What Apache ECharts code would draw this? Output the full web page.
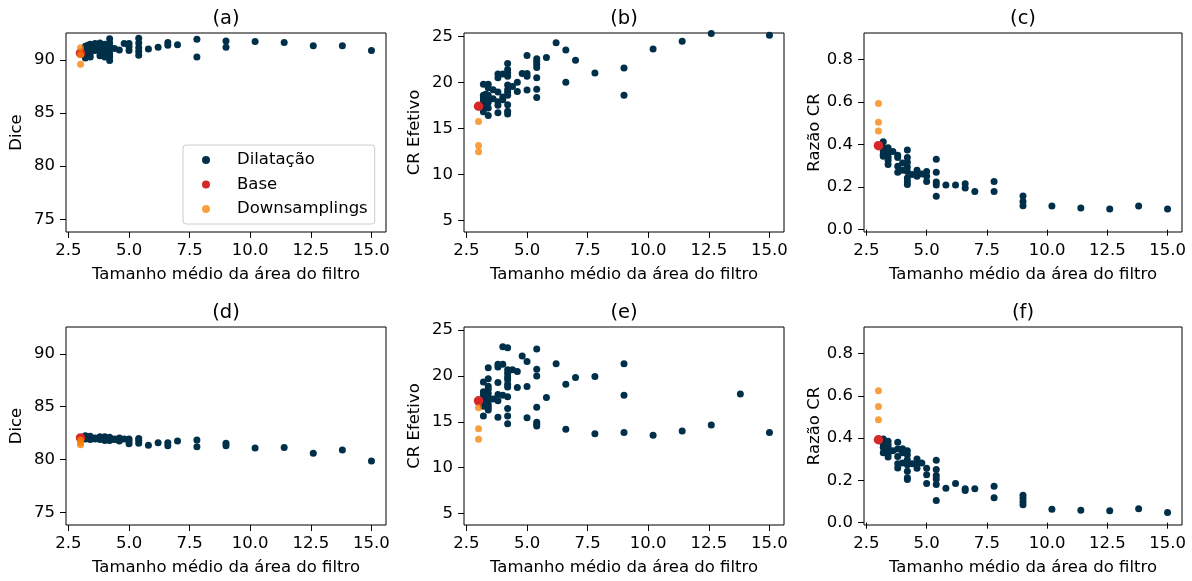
<!DOCTYPE html>
<html><head><meta charset="utf-8">
<script src="https://cdn.jsdelivr.net/npm/echarts@6/dist/echarts.min.js"></script>
<style>html,body{margin:0;padding:0;background:#fff}#c{width:1192px;height:581px}</style>
</head><body><div id="c"></div>
<script>
// ---------- tick labels ----------
const xTicks = [2.5, 5.0, 7.5, 10.0, 12.5, 15.0];
const diceTicks = [75, 80, 85, 90];
const crTicks = [5, 10, 15, 20, 25];
const ratioTicks = [0.0, 0.2, 0.4, 0.6, 0.8];

// ---------- labels ----------
const panelTitles = ['(a)', '(b)', '(c)', '(d)', '(e)', '(f)'];
const xLabel = 'Tamanho médio da área do filtro';
const yLabels = ['Dice', 'CR Efetivo', 'Razão CR', 'Dice', 'CR Efetivo', 'Razão CR'];
const seriesNames = ['Dilatação', 'Base', 'Downsamplings'];

// ---------- data: [tamanho médio, valor] ----------
const dilA = [
  [3.2,91.3],[3.2,91.0],[3.2,90.7],[3.2,90.4],[3.2,90.2],
  [3.3,91.4],[3.3,91.1],[3.3,90.8],[3.3,90.5],
  [3.4,91.5],[3.4,91.2],[3.4,91.0],[3.4,90.6],[3.4,90.3],
  [3.6,91.55],[3.6,91.3],[3.6,90.9],
  [3.8,91.6],[3.8,91.2],[3.8,90.8],[3.8,90.4],
  [4.0,91.5],[4.0,91.1],[4.0,90.7],[4.0,90.3],
  [4.2,92.0],[4.2,91.6],[4.2,91.3],[4.2,91.0],[4.2,90.6],[4.2,90.3],[4.2,89.95],
  [4.4,91.1],[4.6,90.95],[4.8,91.55],
  [5.0,91.55],[5.0,91.25],[5.0,90.9],
  [5.4,92.05],[5.4,91.6],[5.4,91.15],[5.4,90.8],[5.4,90.45],
  [5.8,91.05],[6.2,91.2],[6.6,91.65],[6.6,91.4],[7.0,91.45],
  [7.8,91.95],[7.8,90.3],[9.0,91.8],[9.0,91.2],
  [10.2,91.75],[11.4,91.65],[12.6,91.35],[13.8,91.35],[15.0,90.9]
];
const baseA = [[3.0,90.65]];
const dsA = [[3.0,91.15],[3.0,90.5],[3.0,89.6]];

const dilB = [
  [3.2,19.8],[3.2,18.6],[3.2,18.3],[3.2,18.0],[3.2,17.7],[3.2,17.3],[3.2,16.8],
  [3.3,18.7],[3.3,18.4],[3.3,18.1],[3.3,17.8],[3.3,17.5],
  [3.4,19.8],[3.4,19.4],[3.4,18.6],[3.4,18.2],[3.4,17.8],[3.4,17.2],[3.4,16.4],
  [3.6,19.2],[3.6,18.2],
  [3.8,20.9],[3.8,20.5],[3.8,18.95],[3.8,17.9],[3.8,17.5],[3.8,16.7],
  [4.0,20.9],[4.0,18.4],[4.0,18.1],
  [4.2,22.05],[4.2,21.4],[4.2,21.05],[4.2,20.65],[4.2,19.7],[4.2,19.2],[4.2,18.9],[4.2,18.6],[4.2,17.55],[4.2,16.85],[4.2,16.55],
  [4.4,19.55],[4.6,20.0],[4.6,19.0],[4.8,20.95],
  [5.0,22.9],[5.0,20.95],[5.0,20.65],[5.0,19.15],
  [5.4,22.55],[5.4,22.25],[5.4,21.95],[5.4,21.6],[5.4,20.5],[5.4,19.25],[5.4,18.35],
  [5.8,22.7],[6.2,24.3],[6.6,23.5],[6.6,20.0],[7.0,22.4],[7.8,21.0],
  [9.0,21.55],[9.0,18.6],[10.2,23.6],[11.4,24.45],[12.6,25.3],[15.0,25.1]
];
const baseB = [[3.0,17.4]];
const dsB = [[3.0,15.75],[3.0,13.15],[3.0,12.45]];

const dilC = [
  [3.2,0.413],[3.2,0.385],[3.2,0.37],[3.2,0.355],[3.2,0.345],
  [3.3,0.38],[3.3,0.36],[3.3,0.35],
  [3.4,0.385],[3.4,0.37],[3.4,0.355],[3.4,0.34],[3.4,0.325],[3.4,0.306],
  [3.6,0.368],
  [3.8,0.35],[3.8,0.34],[3.8,0.298],[3.8,0.27],
  [4.0,0.314],[4.0,0.28],
  [4.2,0.375],[4.2,0.34],[4.2,0.317],[4.2,0.295],[4.2,0.274],[4.2,0.243],[4.2,0.227],[4.2,0.212],
  [4.4,0.259],[4.6,0.279],[4.6,0.251],[4.8,0.262],
  [5.0,0.274],[5.0,0.251],[5.0,0.227],
  [5.4,0.331],[5.4,0.27],[5.4,0.224],[5.4,0.21],[5.4,0.157],
  [5.8,0.21],[6.2,0.21],[6.6,0.216],[6.6,0.196],[7.0,0.18],
  [7.8,0.227],[7.8,0.18],[9.0,0.158],[9.0,0.132],[9.0,0.113],
  [10.2,0.111],[11.4,0.102],[12.6,0.097],[13.8,0.111],[15.0,0.097]
];
const baseC = [[3.0,0.395]];
const dsC = [[3.0,0.593],[3.0,0.505],[3.0,0.464]];

const dilD = [
  [3.2,82.25],[3.2,82.05],[3.2,81.95],[3.3,82.15],[3.3,82.0],
  [3.4,82.2],[3.4,82.0],[3.4,81.9],[3.6,82.05],[3.6,81.95],
  [3.8,82.15],[3.8,82.0],[3.8,81.9],[4.0,82.15],[4.0,81.95],[4.0,81.8],
  [4.2,82.1],[4.2,81.95],[4.2,81.8],[4.4,81.95],[4.4,81.9],
  [4.6,82.05],[4.6,81.85],[4.6,81.75],[4.8,81.95],
  [5.0,81.95],[5.0,81.75],[5.0,81.5],[5.4,82.0],[5.4,81.8],[5.4,81.55],
  [5.8,81.35],[6.2,81.6],[6.6,81.6],[6.6,81.3],[7.0,81.75],
  [7.8,81.85],[7.8,81.2],[9.0,81.55],[9.0,81.3],
  [10.2,81.1],[11.4,81.15],[12.6,80.6],[13.8,80.9],[15.0,79.85]
];
const baseD = [[3.0,82.05]];
const dsD = [[3.0,81.85],[3.0,81.6],[3.0,81.4]];

const dilE = [
  [3.2,19.35],[3.2,18.3],[3.2,17.9],[3.2,17.5],[3.2,17.1],[3.2,16.7],[3.2,15.65],
  [3.3,18.0],[3.3,17.6],[3.3,17.2],[3.3,16.9],
  [3.4,20.9],[3.4,19.7],[3.4,18.9],[3.4,18.55],[3.4,18.1],[3.4,17.7],[3.4,17.3],[3.4,16.9],[3.4,16.6],[3.4,16.3],
  [3.6,17.5],
  [3.8,21.3],[3.8,21.0],[3.8,19.3],[3.8,18.0],[3.8,17.3],[3.8,15.5],
  [4.0,23.2],[4.0,21.3],[4.0,17.9],
  [4.2,23.1],[4.2,20.7],[4.2,20.3],[4.2,19.9],[4.2,19.6],[4.2,19.1],[4.2,18.8],[4.2,17.75],[4.2,16.45],[4.2,15.65],[4.2,14.8],
  [4.4,20.7],[4.6,20.5],[4.6,18.75],[4.8,22.2],
  [5.0,21.6],[5.0,18.85],[5.0,15.45],
  [5.4,22.95],[5.4,20.75],[5.4,20.0],[5.4,16.6],[5.4,14.95],[5.4,14.75],[5.4,14.55],
  [5.8,17.65],[6.2,21.35],[6.6,19.1],[6.6,14.2],[7.0,19.85],
  [7.8,19.95],[7.8,13.7],[9.0,21.35],[9.0,17.9],[9.0,13.85],
  [10.2,13.55],[11.4,14.0],[12.6,14.65],[13.8,18.05],[15.0,13.85]
];
const baseE = [[3.0,17.3]];
const dsE = [[3.0,16.55],[3.0,14.25],[3.0,13.1]];

const dilF = [
  [3.2,0.395],[3.2,0.37],[3.2,0.355],[3.2,0.33],
  [3.3,0.385],[3.3,0.365],[3.3,0.345],
  [3.4,0.385],[3.4,0.37],[3.4,0.355],[3.4,0.34],[3.4,0.325],[3.4,0.31],
  [3.6,0.34],
  [3.8,0.38],[3.8,0.348],[3.8,0.313],[3.8,0.279],[3.8,0.259],
  [4.0,0.35],[4.0,0.33],[4.0,0.282],
  [4.2,0.34],[4.2,0.321],[4.2,0.298],[4.2,0.274],[4.2,0.243],[4.2,0.212],[4.2,0.204],
  [4.4,0.279],[4.6,0.301],[4.6,0.279],[4.6,0.257],[4.8,0.282],
  [5.0,0.257],[5.0,0.226],[5.0,0.185],
  [5.4,0.295],[5.4,0.251],[5.4,0.223],[5.4,0.207],[5.4,0.18],[5.4,0.105],
  [5.8,0.163],[6.2,0.185],[6.6,0.16],[6.6,0.152],[7.0,0.16],
  [7.8,0.172],[7.8,0.118],[9.0,0.13],[9.0,0.115],[9.0,0.1],[9.0,0.085],
  [10.2,0.063],[11.4,0.059],[12.6,0.056],[13.8,0.066],[15.0,0.048]
];
const baseF = [[3.0,0.392]];
const dsF = [[3.0,0.624],[3.0,0.549],[3.0,0.486]];

// ---------- assembly ----------
const panelData = [
  [dilA, baseA, dsA], [dilB, baseB, dsB], [dilC, baseC, dsC],
  [dilD, baseD, dsD], [dilE, baseE, dsE], [dilF, baseF, dsF]
];
const yTickSets = [diceTicks, crTicks, ratioTicks, diceTicks, crTicks, ratioTicks];
const yRanges = [[73.8, 92.55], [3.75, 25.35], [-0.011, 0.925],
                 [73.8, 92.55], [3.75, 25.35], [-0.011, 0.925]];
const yFmt = [v => String(v), v => String(v), v => v.toFixed(1),
              v => String(v), v => String(v), v => v.toFixed(1)];

const FONT = 'DejaVu Sans';
const grids = [
  {left: 66, top: 33, width: 320, height: 199},
  {left: 464, top: 33, width: 320, height: 199},
  {left: 864, top: 33, width: 318, height: 199},
  {left: 66, top: 327, width: 320, height: 198},
  {left: 464, top: 327, width: 320, height: 198},
  {left: 864, top: 327, width: 318, height: 198}
];
const colors = ['#003049', '#d62828', '#f77f00'];
const sizes = [7, 9.5, 7];

const option = {
  animation: false,
  backgroundColor: '#ffffff',
  textStyle: {fontFamily: FONT},
  grid: grids.map(g => Object.assign({show: true, borderColor: '#000', borderWidth: 1, containLabel: false}, g)),
  xAxis: grids.map((g, i) => ({
    type: 'value', gridIndex: i, min: 2.4, max: 15.6,
    axisLine: {show: false},
    splitLine: {show: false},
    axisTick: {show: true, length: 6, lineStyle: {color: '#000', width: 1}, customValues: xTicks},
    axisLabel: {show: true, color: '#000', fontSize: 16.5, fontFamily: FONT, margin: 10,
      customValues: xTicks, formatter: v => v.toFixed(1)},
    name: xLabel, nameLocation: 'middle', nameGap: 34,
    nameTextStyle: {color: '#000', fontSize: 16.5, fontFamily: FONT}
  })),
  yAxis: grids.map((g, i) => ({
    type: 'value', gridIndex: i, min: yRanges[i][0], max: yRanges[i][1],
    axisLine: {show: false},
    splitLine: {show: false},
    axisTick: {show: true, length: 6, lineStyle: {color: '#000', width: 1}, customValues: yTickSets[i]},
    axisLabel: {show: true, color: '#000', fontSize: 16.5, fontFamily: FONT, margin: 11,
      customValues: yTickSets[i], formatter: yFmt[i]},
    name: yLabels[i], nameLocation: 'middle', nameGap: 41, nameRotate: 90,
    nameTextStyle: {color: '#000', fontSize: 16.5, fontFamily: FONT}
  })),
  legend: {
    data: seriesNames,
    left: 183, top: 145, orient: 'vertical',
    itemWidth: 8, itemHeight: 8, itemGap: 7.5,
    padding: [6.5, 7, 6.5, 19],
    borderColor: '#cccccc', borderWidth: 1, borderRadius: 3,
    backgroundColor: 'rgba(255,255,255,0.8)',
    textStyle: {color: '#000', fontSize: 16.5, fontFamily: FONT, lineHeight: 17, padding: [0, 0, 0, 22]}
  },
  graphic: grids.map((g, i) => ({
    type: 'text', x: g.left + g.width / 2, y: g.top - 14,
    style: {text: panelTitles[i], textAlign: 'center', textVerticalAlign: 'middle',
      font: '19.5px "DejaVu Sans"', fill: '#000'}
  })),
  series: []
};

panelData.forEach((sets, i) => {
  sets.forEach((d, k) => {
    option.series.push({
      type: 'scatter', name: seriesNames[k], xAxisIndex: i, yAxisIndex: i,
      data: d, symbol: 'circle', symbolSize: sizes[k], clip: false,
      itemStyle: {color: colors[k], opacity: k === 2 ? 0.75 : 1},
      emphasis: {disabled: true}, z: 2 + k
    });
  });
});

const chart = echarts.init(document.getElementById('c'), null, {renderer: 'canvas'});
chart.setOption(option);
</script></body></html>
